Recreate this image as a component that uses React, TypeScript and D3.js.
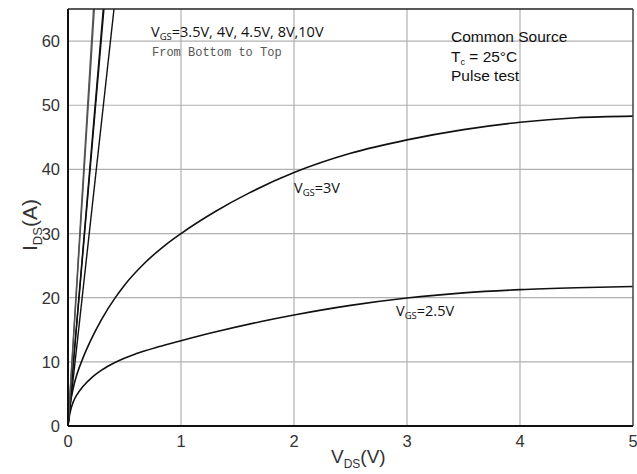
import React from "react";
import * as d3 from "d3";

const W = 637;
const H = 474;
const xTicks = [0, 1, 2, 3, 4, 5];
const yTicks = [0, 10, 20, 30, 40, 50, 60];

// VGS = 2.5V curve (VDS, IDS)
const vds25 = [0, 0.01, 0.03, 0.05, 0.08, 0.13, 0.22, 0.3, 0.42, 0.6, 0.8, 1, 1.3, 1.7, 2, 2.5, 3, 3.5, 4, 4.5, 5];
const ids25 = [0, 1.3, 2.9, 3.9, 4.9, 6.1, 7.7, 8.75, 9.95, 11.25, 12.35, 13.3, 14.65, 16.25, 17.3, 18.8, 19.95, 20.75, 21.25, 21.55, 21.75];
// VGS = 3V curve
const vds3 = [0, 0.01, 0.03, 0.05, 0.08, 0.13, 0.2, 0.3, 0.42, 0.5, 0.67, 0.85, 1, 1.3, 1.6, 2, 2.5, 3, 3.5, 4, 4.5, 5];
const ids3 = [0, 2.2, 4.5, 6.2, 8.1, 10.5, 13.3, 16.7, 20.05, 21.95, 25.25, 28.05, 30, 33.4, 36.3, 39.5, 42.5, 44.6, 46.2, 47.35, 48.05, 48.3];
// Steep curves (VGS = 3.5V, 4V, 4.5V, 8V, 10V): VDS at which each reaches 65 A
const steepLabels = ["3.5V", "4V", "4.5V", "8V", "10V"];
const steepVdsAtTop = [0.407, 0.318, 0.312, 0.233, 0.226];
const steepIdsTop = 65;

export default function App() {
  const m = { left: 68, right: 633, top: 9, bottom: 426 };
  const x = d3.scaleLinear().domain([0, 5]).range([m.left, m.right]);
  const y = d3.scaleLinear().domain([0, 65]).range([m.bottom, m.top]);
  const line = d3
    .line<[number, number]>()
    .x((d) => x(d[0]))
    .y((d) => y(d[1]))
    .curve(d3.curveMonotoneX);
  const c25 = line(vds25.map((v, i) => [v, ids25[i]]) as [number, number][]);
  const c3 = line(vds3.map((v, i) => [v, ids3[i]]) as [number, number][]);
  const steep = steepVdsAtTop.map((v) =>
    d3.line<[number, number]>().x((d) => x(d[0])).y((d) => y(d[1]))([
      [0, 0],
      [v, steepIdsTop],
    ])
  );
  const sans = "'Liberation Sans', Arial, sans-serif";
  const sans2 = "'Open Sans', 'Noto Sans', sans-serif";
  return (
    <svg
      width={W}
      height={H}
      style={{ position: "absolute", left: 0, top: 0, background: "#fff" }}
    >
      <defs>
        <clipPath id="plot">
          <rect x={m.left} y={m.top} width={m.right - m.left} height={m.bottom - m.top} />
        </clipPath>
      </defs>
      <rect x={0} y={0} width={W} height={H} fill="#fff" />
      {/* grid */}
      {xTicks.slice(1, -1).map((t) => (
        <line key={"gx" + t} x1={x(t)} x2={x(t)} y1={m.top} y2={m.bottom} stroke="#b0b0b0" strokeWidth={1.2} />
      ))}
      {yTicks.slice(1).map((t) => (
        <line key={"gy" + t} x1={m.left} x2={m.right} y1={y(t)} y2={y(t)} stroke="#b0b0b0" strokeWidth={1.2} />
      ))}
      {/* curves */}
      <g clipPath="url(#plot)" fill="none" stroke="#111" strokeWidth={1.6}>
        <path d={c25 || ""} />
        <path d={c3 || ""} />
        {steep.map((d, i) => (
          <path key={steepLabels[i]} d={d || ""} stroke={i >= 3 ? "#555" : "#111"} strokeWidth={1.4} />
        ))}
      </g>
      {/* frame */}
      <line x1={m.left} x2={m.right} y1={m.top} y2={m.top} stroke="#222" strokeWidth={1.5} />
      <line x1={m.right} x2={m.right} y1={m.top} y2={m.bottom} stroke="#444" strokeWidth={1.5} />
      <line x1={m.left} x2={m.left} y1={m.top} y2={m.bottom} stroke="#111" strokeWidth={2} />
      <line x1={m.left} x2={m.right} y1={m.bottom} y2={m.bottom} stroke="#111" strokeWidth={2} />
      {/* tick labels */}
      {yTicks.map((t) => (
        <text key={"ty" + t} x={60} y={y(t) + 6} textAnchor="end" fontFamily={sans} fontSize={16.5} fill="#333">
          {t}
        </text>
      ))}
      {xTicks.map((t) => (
        <text key={"tx" + t} x={x(t)} y={447} textAnchor="middle" fontFamily={sans} fontSize={16.5} fill="#333">
          {t}
        </text>
      ))}
      {/* axis titles */}
      <text x={331} y={463} fontFamily={sans} fontSize={19} fill="#333">
        V<tspan fontSize={12} dy={5}>DS</tspan>
        <tspan dy={-5}>(V)</tspan>
      </text>
      <text transform="translate(37,251) rotate(-90)" fontFamily={sans} fontSize={21} fill="#333">
        I<tspan fontSize={13} dy={5}>DS</tspan>
        <tspan dy={-5}>(A)</tspan>
      </text>
      {/* annotations */}
      <text x={151} y={37} fontFamily={sans2} fontSize={14.5} fill="#111">
        V<tspan fontSize={9.5} dy={3}>GS</tspan>
        <tspan dy={-3}>=3.5V, 4V, 4.5V, 8V,10V</tspan>
      </text>
      <text x={152} y={56} fontFamily="'Liberation Mono', 'DejaVu Sans Mono', monospace" fontSize={12} fill="#555">
        From Bottom to Top
      </text>
      <text x={451} y={42} fontFamily={sans} fontSize={15.5} fill="#111">Common Source</text>
      <text x={451} y={62} fontFamily={sans} fontSize={15.5} fill="#111">
        T<tspan fontSize={9} dy={3}>c</tspan>
        <tspan dy={-3}> = 25°C</tspan>
      </text>
      <text x={451} y={81} fontFamily={sans} fontSize={15.5} fill="#111">Pulse test</text>
      <text x={294} y={193} fontFamily={sans2} fontSize={14.5} fill="#111">
        V<tspan fontSize={9.5} dy={3}>GS</tspan>
        <tspan dy={-3}>=3V</tspan>
      </text>
      <text x={396} y={316} fontFamily={sans2} fontSize={14.5} fill="#111">
        V<tspan fontSize={9.5} dy={3}>GS</tspan>
        <tspan dy={-3}>=2.5V</tspan>
      </text>
    </svg>
  );
}
